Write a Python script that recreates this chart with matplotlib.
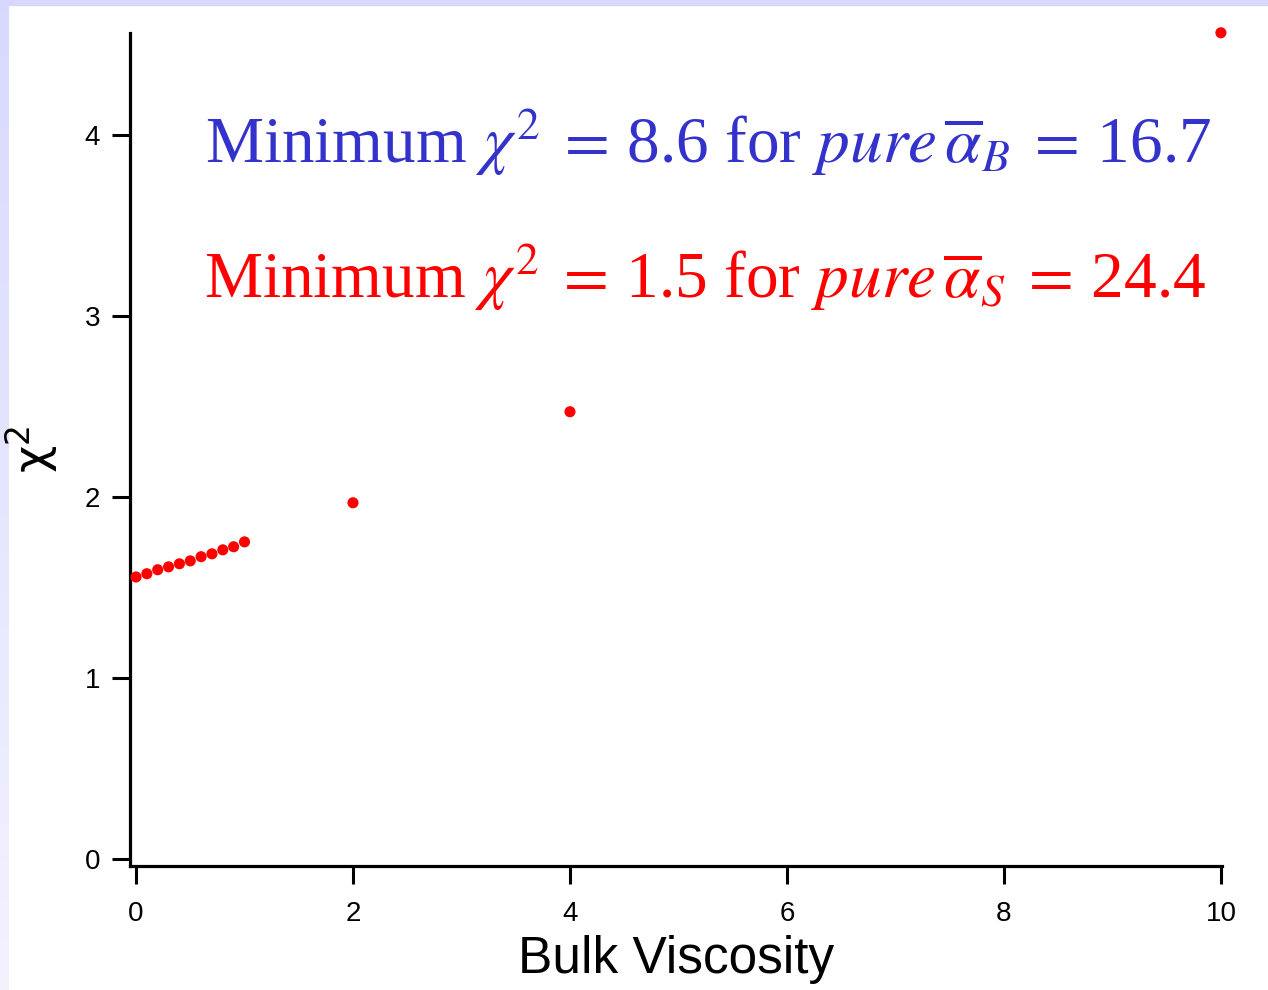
import numpy as np
import matplotlib.pyplot as plt

plt.rcParams['font.family'] = ['Liberation Sans', 'DejaVu Sans']
plt.rcParams['mathtext.fontset'] = 'stix'

# chi^2 versus bulk viscosity
visc = [0.0, 0.1, 0.2, 0.3, 0.4, 0.5, 0.6, 0.7, 0.8, 0.9, 1.0, 2.0, 4.0, 10.0]
chi2 = [1.557, 1.575, 1.597, 1.613, 1.630, 1.646, 1.669, 1.685, 1.707, 1.724, 1.751,
        1.967, 2.470, 4.564]

xticks = [0, 2, 4, 6, 8, 10]
yticks = [0, 1, 2, 3, 4]

fig = plt.figure(figsize=(12.68, 9.9), dpi=100)

# lavender slide border (top strip and left gradient strip)
bg = fig.add_axes([0, 0, 9 / 1268, 1])
grad = np.linspace(0, 1, 256).reshape(-1, 1)
top_c = np.array([0.85, 0.85, 1.0])
bot_c = np.array([0.95, 0.95, 1.0])
img = top_c[None, None, :] * (1 - grad[:, :, None]) + bot_c[None, None, :] * grad[:, :, None]
bg.imshow(img, aspect='auto', extent=[0, 1, 0, 1])
bg.axis('off')
fig.patches.append(plt.Rectangle((0, 1 - 5 / 990), 1, 5 / 990, transform=fig.transFigure,
                                 color='#d8d8ff', zorder=0))

ax = fig.add_axes([129.5 / 1268, 1 - 866 / 990, (1222 - 129.5) / 1268, (866 - 33.5) / 990])
ax.scatter(visc, chi2, s=64, color='#ff0000', edgecolors='none', clip_on=False, zorder=3)

ax.set_xlim(-0.06, 10.01)
ax.set_ylim(-0.04, 4.56)
ax.set_xticks(xticks)
ax.set_yticks(yticks)
for s in ['top', 'right']:
    ax.spines[s].set_visible(False)
for s in ['left', 'bottom']:
    ax.spines[s].set_linewidth(2.3)
ax.tick_params(axis='both', direction='out', length=13, width=2.2, labelsize=20, pad=8)
ax.tick_params(axis='x', pad=12)

ax.set_xlabel('Bulk Viscosity', fontsize=37, labelpad=6)
ax.set_ylabel(r'$\mathregular{χ^2}$', fontsize=34, labelpad=18, family='DejaVu Sans')

ax.text(0.99, 0.844,
        r'Minimum $\chi^{2}\;=\,$8.6 for $pure\,\overline{\alpha}_B\;=\,$16.7',
        transform=ax.transAxes, ha='right', va='baseline', fontsize=47,
        family='Liberation Serif', color='#3333cc')
ax.text(0.985, 0.682,
        r'Minimum $\chi^{2}\;=\,$1.5 for $pure\,\overline{\alpha}_S\;=\,$24.4',
        transform=ax.transAxes, ha='right', va='baseline', fontsize=47,
        family='Liberation Serif', color='#ff0000')

fig.savefig('out.png', dpi=100)
